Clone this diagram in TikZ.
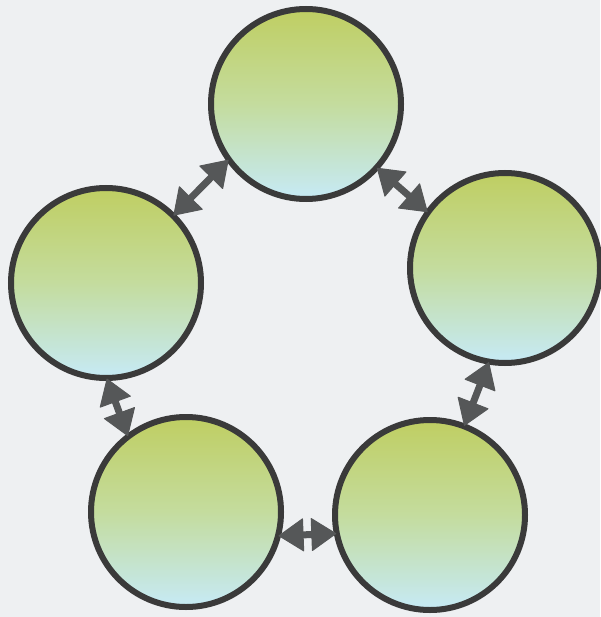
\documentclass[tikz,border=0pt]{standalone}
\usetikzlibrary{calc}
\definecolor{bgc}{HTML}{EEF0F2}
\definecolor{topc}{HTML}{BFCE62}
\definecolor{midc}{HTML}{C4DC9E}
\definecolor{botc}{HTML}{C6EAF6}
\definecolor{edgec}{HTML}{3A3A3A}
\definecolor{arrc}{HTML}{555758}
\tikzset{
  ball/.style={circle, draw=edgec, line width=6pt, minimum size=190pt, inner sep=0pt,
    top color=topc, bottom color=botc, middle color=midc},
  shaft/.style={draw=arrc, line width=7pt},
  head/.style={fill=arrc, draw=arrc, line width=1pt, line join=round}
}
\newcommand{\dlink}[2]{%
  \coordinate (tA) at ($(#1)!-2pt!(#2)$);
  \coordinate (tB) at ($(#2)!-2pt!(#1)$);
  \coordinate (bA) at ($(tA)!24pt!(tB)$);
  \coordinate (bB) at ($(tB)!24pt!(tA)$);
  \draw[shaft] (bA) -- (bB);
  \filldraw[head] (tA) -- ($(bA)!16pt!90:(tA)$) -- ($(bA)!16pt!-90:(tA)$) -- cycle;
  \filldraw[head] (tB) -- ($(bB)!16pt!90:(tB)$) -- ($(bB)!16pt!-90:(tB)$) -- cycle;
}
\begin{document}
\begin{tikzpicture}[x=1pt,y=-1pt]
\fill[bgc] (0,0) rectangle (600,617);
\useasboundingbox (0,0) rectangle (600,617);
\node[ball] (t) at (306,104) {};
\node[ball] (l) at (106,283) {};
\node[ball] (r) at (505,268) {};
\node[ball] (bl) at (186,512) {};
\node[ball] (br) at (430,515) {};
\dlink{l.45}{t.216}
\dlink{t.-42}{r.144}
\dlink{r.-100}{br.69}
\dlink{br.191}{bl.-14}
\dlink{bl.127}{l.-89}
\end{tikzpicture}
\end{document}
